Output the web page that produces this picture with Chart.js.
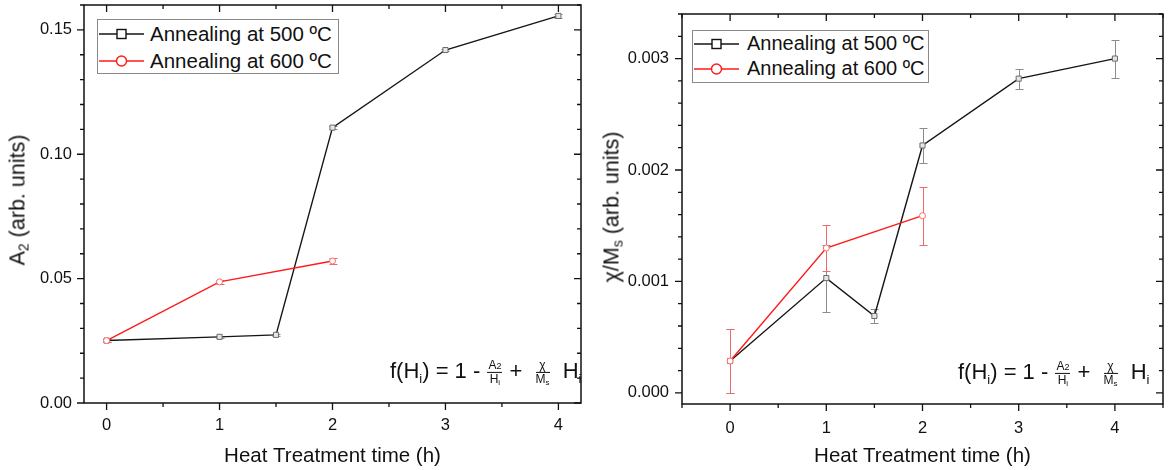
<!DOCTYPE html>
<html><head><meta charset="utf-8">
<script src="https://cdn.jsdelivr.net/npm/chart.js@4.4.1/dist/chart.umd.min.js"></script>
<style>
html,body{margin:0;padding:0;background:#fff;}
#wrap{position:relative;width:1168px;height:470px;overflow:hidden;font-family:'Liberation Sans',Arial,sans-serif;color:#111;}
canvas{position:absolute;top:0;}
.ytitle{position:absolute;transform:translate(-50%,-50%) rotate(-90deg);white-space:nowrap;font-size:21.5px;}
.ytitle sub{font-size:14px;vertical-align:-4px;line-height:0;}
.legend{position:absolute;border:1px solid #8a8a8a;background:#fff;box-sizing:border-box;}
.row{position:absolute;left:0;height:27px;display:flex;align-items:center;white-space:nowrap;}
.row svg{display:block;flex:none;}
.formula{position:absolute;transform:translateY(-50%);white-space:nowrap;font-size:22px;line-height:1;}
.formula sub{font-size:13px;vertical-align:-5px;line-height:0;}
.frac{display:inline-block;vertical-align:middle;text-align:center;font-size:12px;line-height:1.05;margin:0 1px;}
.frac .num{display:block;border-bottom:1px solid #111;padding:0 1px;}
.frac .den{display:block;}
.frac sub{font-size:8px;vertical-align:-2px;}
.frac small{font-size:9px;}
.sp{display:inline-block;width:6px;}
</style></head>
<body>
<div id="wrap">
  <canvas id="c1" width="590" height="470" style="left:0"></canvas>
  <canvas id="c2" width="578" height="470" style="left:590px"></canvas>

  <div class="ytitle" style="left:18px;top:200px">A<sub>2</sub> (arb. units)</div>
  <div class="ytitle" style="left:612px;top:207px">χ/M<sub>s</sub> (arb. units)</div>

  <div class="legend" id="leg1" style="left:97px;top:19px;width:242px;height:55px;"></div>
  <div class="legend" id="leg2" style="left:692px;top:30px;width:237px;height:53px;"></div>

  <div class="formula" style="left:390px;top:372px">f(H<sub>i</sub>) = 1 - <span class="frac"><span class="num">A<small>2</small></span><span class="den">H<sub>i</sub></span></span> + <span class="sp"></span><span class="frac"><span class="num">χ</span><span class="den">M<sub>s</sub></span></span><span class="sp"></span> H<sub>i</sub></div>
  <div class="formula" style="left:958px;top:373px">f(H<sub>i</sub>) = 1 - <span class="frac"><span class="num">A<small>2</small></span><span class="den">H<sub>i</sub></span></span> + <span class="sp"></span><span class="frac"><span class="num">χ</span><span class="den">M<sub>s</sub></span></span><span class="sp"></span> H<sub>i</sub></div>
</div>
<script>
// ---------------- DATA ----------------
const seriesNames = ['Annealing at 500 ºC', 'Annealing at 600 ºC'];
const times500 = [0, 1, 1.5, 2, 3, 4];
const times600 = [0, 1, 2];

const a2_500    = [0.0251, 0.0266, 0.0274, 0.1107, 0.1419, 0.1556];
const a2Err500  = [0.0004, 0.0004, 0.0004, 0.0005, 0.0004, 0.0008];
const a2_600    = [0.0251, 0.0487, 0.0571];
const a2Err600  = [0.0005, 0.0007, 0.0013];

const chi_500   = [0.000286, 0.00103, 0.00069, 0.00222, 0.00282, 0.00300];
const chiErr500 = [0.00029, 0.00030, 0.00006, 0.00016, 0.00009, 0.00017];
const chi_600   = [0.000286, 0.00130, 0.00159];
const chiErr600 = [0.00029, 0.00021, 0.00026];

const xTickValues = [0, 1, 2, 3, 4];
const xTickLabels = ['0', '1', '2', '3', '4'];
const a2TickValues = [0, 0.05, 0.10, 0.15];
const a2TickLabels = ['0.00', '0.05', '0.10', '0.15'];
const chiTickValues = [0, 0.001, 0.002, 0.003];
const chiTickLabels = ['0.000', '0.001', '0.002', '0.003'];
const xTitle = 'Heat Treatment time (h)';

// ---------------- STYLE ----------------
const FONT = "'Liberation Sans', Arial, sans-serif";
const C500 = '#151515', C600 = '#ff1a1a';

function pts(xs, ys) { return xs.map((x, i) => ({x: x, y: ys[i]})); }

function makeDatasets(y500, e500, y600, e600) {
  return [
    {label: seriesNames[0], data: pts(times500, y500), errors: e500, errColor: '#8c8c8c',
     borderColor: C500, borderWidth: 1.4, pointStyle: 'rect', pointRadius: 3.6,
     pointBorderColor: '#6a6a6a', pointBackgroundColor: '#e6e6e6', pointBorderWidth: 1,
     tension: 0, order: 2},
    {label: seriesNames[1], data: pts(times600, y600), errors: e600, errColor: '#ee6a6a',
     borderColor: C600, borderWidth: 1.4, pointStyle: 'circle', pointRadius: 3,
     pointBorderColor: '#ff6b6b', pointBackgroundColor: '#ffffff', pointBorderWidth: 1,
     tension: 0, order: 1}
  ];
}

const errorBarPlugin = {
  id: 'errorBars',
  beforeDatasetsDraw(chart) {
    const ctx = chart.ctx, xs = chart.scales.x, ys = chart.scales.y;
    chart.data.datasets.forEach(ds => {
      ctx.save();
      ctx.strokeStyle = ds.errColor; ctx.lineWidth = 1;
      ds.data.forEach((p, i) => {
        const e = ds.errors[i];
        const px = Math.round(xs.getPixelForValue(p.x)) + 0.5;
        const yt = Math.round(ys.getPixelForValue(p.y + e)) + 0.5;
        const yb = Math.round(ys.getPixelForValue(p.y - e)) + 0.5;
        ctx.beginPath();
        ctx.moveTo(px, yt); ctx.lineTo(px, yb);
        ctx.moveTo(px - 4, yt); ctx.lineTo(px + 4, yt);
        ctx.moveTo(px - 4, yb); ctx.lineTo(px + 4, yb);
        ctx.stroke();
      });
      ctx.restore();
    });
  }
};

const framePlugin = {
  id: 'frame',
  afterDraw(chart) {
    const o = chart.options.plugins.frame;
    const ctx = chart.ctx, a = chart.chartArea, xs = chart.scales.x, ys = chart.scales.y;
    ctx.save();
    ctx.strokeStyle = '#111'; ctx.lineWidth = 1.5;
    ctx.strokeRect(a.left, a.top, a.right - a.left, a.bottom - a.top);
    ctx.lineWidth = 1.3;
    const MJ = 7, MN = 4;
    ctx.beginPath();
    for (let k = Math.ceil(xs.min / o.xMinor); k * o.xMinor <= xs.max + 1e-9; k++) {
      const v = k * o.xMinor;
      const major = o.xMajor.some(m => Math.abs(m - v) < 1e-9);
      const px = xs.getPixelForValue(v);
      const L = major ? MJ : MN;
      ctx.moveTo(px, a.bottom); ctx.lineTo(px, a.bottom + L);
      ctx.moveTo(px, a.top); ctx.lineTo(px, a.top + L);
    }
    for (let k = Math.ceil(ys.min / o.yMinor - 1e-9); k * o.yMinor <= ys.max + 1e-12; k++) {
      const v = k * o.yMinor;
      const major = o.yMajor.some(m => Math.abs(m - v) < o.yMinor * 1e-3);
      const py = ys.getPixelForValue(v);
      const L = major ? MJ : MN;
      ctx.moveTo(a.left, py); ctx.lineTo(a.left - L, py);
      ctx.moveTo(a.right, py); ctx.lineTo(a.right - L, py);
    }
    ctx.stroke();
    ctx.restore();
  }
};

function makeChart(id, cfg) {
  return new Chart(document.getElementById(id), {
    type: 'line',
    data: {datasets: makeDatasets(cfg.y500, cfg.e500, cfg.y600, cfg.e600)},
    options: {
      responsive: false, animation: false, devicePixelRatio: 1,
      layout: {padding: cfg.padding},
      plugins: {legend: {display: false}, tooltip: {enabled: false},
        frame: {xMajor: xTickValues, xMinor: 0.5, yMajor: cfg.yTickValues, yMinor: cfg.yMinor}},
      scales: {
        x: {type: 'linear', min: cfg.xmin, max: cfg.xmax,
          grid: {display: false, drawTicks: false}, border: {display: false},
          afterBuildTicks: s => { s.ticks = xTickValues.map(v => ({value: v})); },
          afterFit: s => { s.height = cfg.xHeight; s.paddingLeft = 0; s.paddingRight = 0; s.paddingTop = 0; s.paddingBottom = 0; },
          ticks: {padding: cfg.xPad, color: '#111', font: {family: FONT, size: 16.5},
            callback: (v) => xTickLabels[xTickValues.indexOf(v)] ?? ''},
          title: {display: true, text: xTitle, color: '#111', font: {family: FONT, size: 20.5},
            padding: {top: 0, bottom: 1}}
        },
        y: {type: 'linear', min: cfg.ymin, max: cfg.ymax,
          grid: {display: false, drawTicks: false}, border: {display: false},
          afterBuildTicks: s => { s.ticks = cfg.yTickValues.map(v => ({value: v})); },
          afterFit: s => { s.width = cfg.yWidth; s.paddingTop = 0; s.paddingBottom = 0; s.paddingLeft = 0; s.paddingRight = 0; },
          ticks: {padding: cfg.yPad, color: '#111', font: {family: FONT, size: 16.5},
            callback: (v) => { const i = cfg.yTickValues.findIndex(t => Math.abs(t - v) < 1e-12); return i >= 0 ? cfg.yTickLabels[i] : ''; }}
        }
      }
    },
    plugins: [errorBarPlugin, framePlugin]
  });
}

makeChart('c1', {y500: a2_500, e500: a2Err500, y600: a2_600, e600: a2Err600,
  xmin: -0.2, xmax: 4.2, ymin: 0, ymax: 0.16, yTickValues: a2TickValues, yTickLabels: a2TickLabels,
  yMinor: 0.01, padding: {top: 5, right: 9, left: 0, bottom: 0}, xHeight: 67, yWidth: 84, xPad: 13, yPad: 12});

makeChart('c2', {y500: chi_500, e500: chiErr500, y600: chi_600, e600: chiErr600,
  xmin: -0.5, xmax: 4.5, ymin: -0.0001, ymax: 0.0034, yTickValues: chiTickValues, yTickLabels: chiTickLabels,
  yMinor: 0.0002, padding: {top: 14, right: 4, left: 0, bottom: 0}, xHeight: 66, yWidth: 92, xPad: 15, yPad: 13});

// ---------------- LEGENDS (HTML) ----------------
function legendIcon(kind) {
  const col = kind === 0 ? C500 : C600;
  const mk = kind === 0
    ? '<rect x="19" y="5.5" width="9" height="9" fill="#fff" stroke="#111" stroke-width="1.4"/>'
    : '<circle cx="23.5" cy="10" r="5" fill="#fff" stroke="#ff1a1a" stroke-width="1.4"/>';
  return '<svg width="47" height="20"><line x1="1" y1="10" x2="46" y2="10" stroke="' + col + '" stroke-width="1.5"/>' + mk + '</svg>';
}
function buildLegend(id, rowTops, fontSize, gap) {
  const el = document.getElementById(id);
  seriesNames.forEach((name, i) => {
    const r = document.createElement('div');
    r.className = 'row';
    r.style.top = rowTops[i] + 'px';
    r.style.fontSize = fontSize + 'px';
    r.innerHTML = legendIcon(i) + '<span style="margin-left:' + gap + 'px">' + name + '</span>';
    el.appendChild(r);
  });
}
buildLegend('leg1', [0, 27], 20.5, 5);
buildLegend('leg2', [-1, 24], 20, 7);
</script>
</body></html>
